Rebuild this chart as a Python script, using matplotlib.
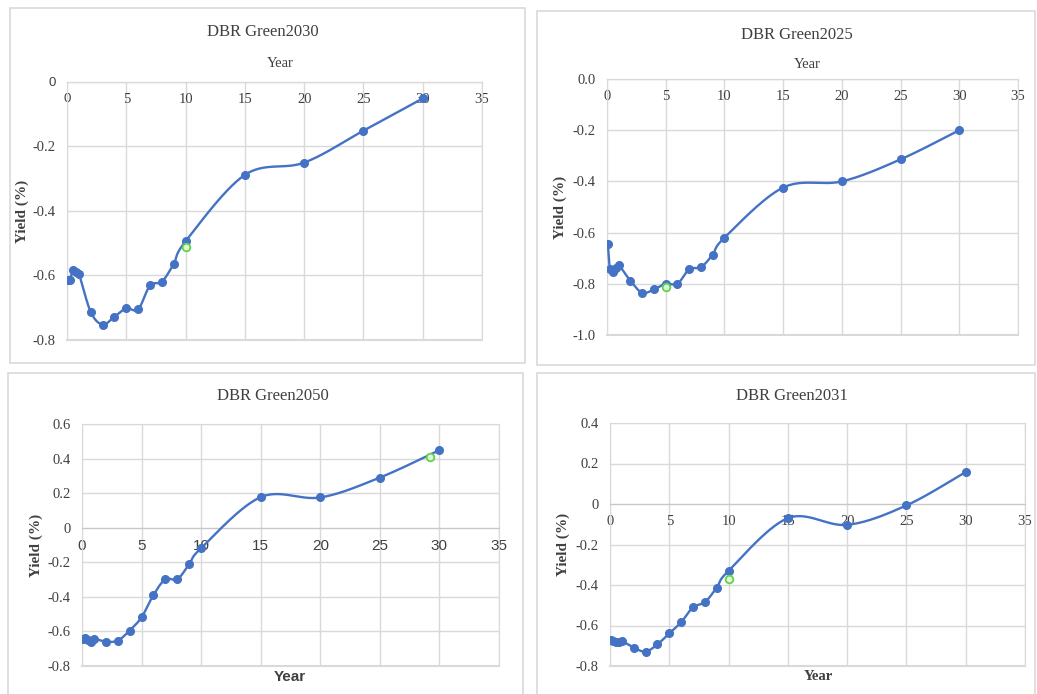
# ======================================================================
# SECTION 1: IMPORTS
# ======================================================================
import numpy as np
import matplotlib
matplotlib.use("Agg")
import matplotlib.pyplot as plt
from matplotlib.patches import Rectangle


# ======================================================================
# SECTION 2: DATA
# ======================================================================
maturities = [0.08, 0.25, 0.5, 0.75, 1, 2, 3, 4, 5, 6, 7, 8, 9, 10, 15, 20, 25, 30]

green2030_yield = [-0.615, -0.615, -0.582, -0.588, -0.594, -0.713, -0.752, -0.728, -0.702,
                   -0.705, -0.631, -0.619, -0.564, -0.494, -0.288, -0.250, -0.151, -0.051]
green2025_yield = [-0.645, -0.743, -0.755, -0.740, -0.727, -0.789, -0.835, -0.822, -0.800,
                   -0.800, -0.743, -0.735, -0.686, -0.620, -0.424, -0.400, -0.314, -0.200]
green2050_yield = [-0.642, -0.638, -0.648, -0.659, -0.643, -0.659, -0.653, -0.595, -0.518,
                   -0.389, -0.298, -0.298, -0.211, -0.118, 0.177, 0.175, 0.290, 0.449]
green2031_yield = [-0.671, -0.675, -0.683, -0.680, -0.677, -0.709, -0.729, -0.693, -0.639,
                   -0.584, -0.510, -0.485, -0.413, -0.330, -0.070, -0.103, -0.007, 0.158]

# the green bond itself (single point per chart)
green_bond_x = [10, 5, 29.2, 10]
green_bond_y = [-0.513, -0.813, 0.409, -0.371]

titles = ["DBR Green2030", "DBR Green2025", "DBR Green2050", "DBR Green2031"]
y_limits = [(-0.8, 0.0), (-1.0, 0.0), (-0.8, 0.6), (-0.8, 0.4)]
y_formats = ["general", "fixed", "general", "general"]
x_ticks = [0, 5, 10, 15, 20, 25, 30, 35]

BLUE = "#4472C4"
GRID = "#d9d9d9"
TEXT = "#404040"
SERIF = "Liberation Serif"
SANS = "Liberation Sans"


# ======================================================================
# SECTION 3: EXCEL-STYLE SMOOTH LINE
# ======================================================================
def smooth_line(x, y, n=30):
    """Catmull-Rom style bezier through the points (what Excel 'smoothed line' does)."""
    pts = np.column_stack([np.asarray(x, float), np.asarray(y, float)])
    out = []
    for i in range(len(pts) - 1):
        p0 = pts[i - 1] if i > 0 else pts[i]
        p1 = pts[i]
        p2 = pts[i + 1]
        p3 = pts[i + 2] if i + 2 < len(pts) else pts[i + 1]
        c1 = p1 + (p2 - p0) / 6.0
        c2 = p2 - (p3 - p1) / 6.0
        t = np.linspace(0, 1, n)[:, None]
        seg = ((1 - t) ** 3) * p1 + 3 * ((1 - t) ** 2) * t * c1 + 3 * (1 - t) * t ** 2 * c2 + t ** 3 * p2
        out.append(seg)
    seg = np.vstack(out)
    return seg[:, 0], seg[:, 1]


def fmt_tick(v, style):
    if abs(v) < 1e-9:
        return "0.0" if style == "fixed" else "0"
    return f"{v:.1f}"


# ======================================================================
# SECTION 4: LAYOUT (pixel boxes)
# ======================================================================
W, H = 1037, 694
fig = plt.figure(figsize=(W / 100, H / 100), dpi=100)

# plot areas: left, right, top, bottom in pixels
plot_boxes = [(67, 482, 82, 340), (607, 1018, 79, 335),
              (82, 499, 424, 666), (610, 1025, 423, 666)]
# chart frames
frames = [(10, 525, 8, 363), (537, 1035, 11, 365), (8, 523, 373, 700), (537, 1035, 373, 700)]
title_pos = [(263, 32), (797, 35), (273, 396), (792, 396)]
year_pos = [(0.513, 1.07), (0.487, 1.055), (0.499, -0.045), (0.501, -0.045)]
yield_x = [-0.108, -0.114, -0.110, -0.113]

for (l, r, t, b) in frames:
    fig.add_artist(Rectangle((l / W, 1 - b / H), (r - l) / W, (b - t) / H,
                             transform=fig.transFigure, fill=False,
                             edgecolor=GRID, linewidth=1.2))

series = [green2030_yield, green2025_yield, green2050_yield, green2031_yield]

for k in range(4):
    l, r, t, b = plot_boxes[k]
    ax = fig.add_axes([l / W, 1 - b / H, (r - l) / W, (b - t) / H])

    sx, sy = smooth_line(maturities, series[k])
    ax.plot(sx, sy, color=BLUE, linewidth=1.7, zorder=3)
    ax.plot(maturities, series[k], "o", color=BLUE, markersize=5.5, zorder=4)
    ax.plot(green_bond_x[k], green_bond_y[k], "o", markersize=5.5,
            markerfacecolor="#e4f7d6", markeredgecolor="#5fd34a", markeredgewidth=1.3, zorder=5)

    lo, hi = y_limits[k]
    yt = np.round(np.arange(lo, hi + 0.001, 0.2), 1)
    ax.set_xlim(0, 35)
    ax.set_ylim(lo, hi)
    ax.set_xticks(x_ticks)
    ax.set_yticks(yt)
    ax.set_yticklabels([fmt_tick(v, y_formats[k]) for v in yt])

    ax.grid(True, color=GRID, linewidth=1)
    ax.set_axisbelow(True)
    for side in ["top", "right", "left"]:
        ax.spines[side].set_color(GRID)
    ax.spines["bottom"].set_position(("data", 0))
    ax.spines["bottom"].set_color("#c8c8c8")
    ax.axhline(lo, color=GRID, linewidth=1.5, clip_on=False, zorder=1)

    ax.tick_params(length=0, colors=TEXT)
    ax.tick_params(axis="y", pad=8, labelsize=10.5)
    ax.tick_params(axis="x", pad=8, labelsize=11 if k == 2 else 10.5)
    x_family = SANS if k == 2 else SERIF
    for lab in ax.get_xticklabels():
        lab.set_fontfamily(x_family)
    for lab in ax.get_yticklabels():
        lab.set_fontfamily(SERIF)
    if k == 0:
        # the two zero labels of the first chart are in a sans face
        for lab in [ax.get_xticklabels()[0], ax.get_yticklabels()[-1]]:
            lab.set_fontfamily(SANS)
            lab.set_fontsize(9.5)

    tx, ty = title_pos[k]
    fig.text(tx / W, 1 - ty / H, titles[k], ha="center", va="center",
             fontsize=12, family=SERIF, color=TEXT)
    yx, yy = year_pos[k]
    ax.text(yx, yy, "Year", transform=ax.transAxes, ha="center", va="center",
            fontsize=11 if k == 2 else 10.5, color=TEXT,
            family=SANS if k == 2 else SERIF, fontweight="bold" if k >= 2 else "normal")
    ax.text(yield_x[k], 0.5, "Yield (%)", transform=ax.transAxes, rotation=90,
            ha="center", va="center", fontsize=11, family=SERIF,
            fontweight="bold", color=TEXT)

fig.savefig("out.png", dpi=100, facecolor="white")
